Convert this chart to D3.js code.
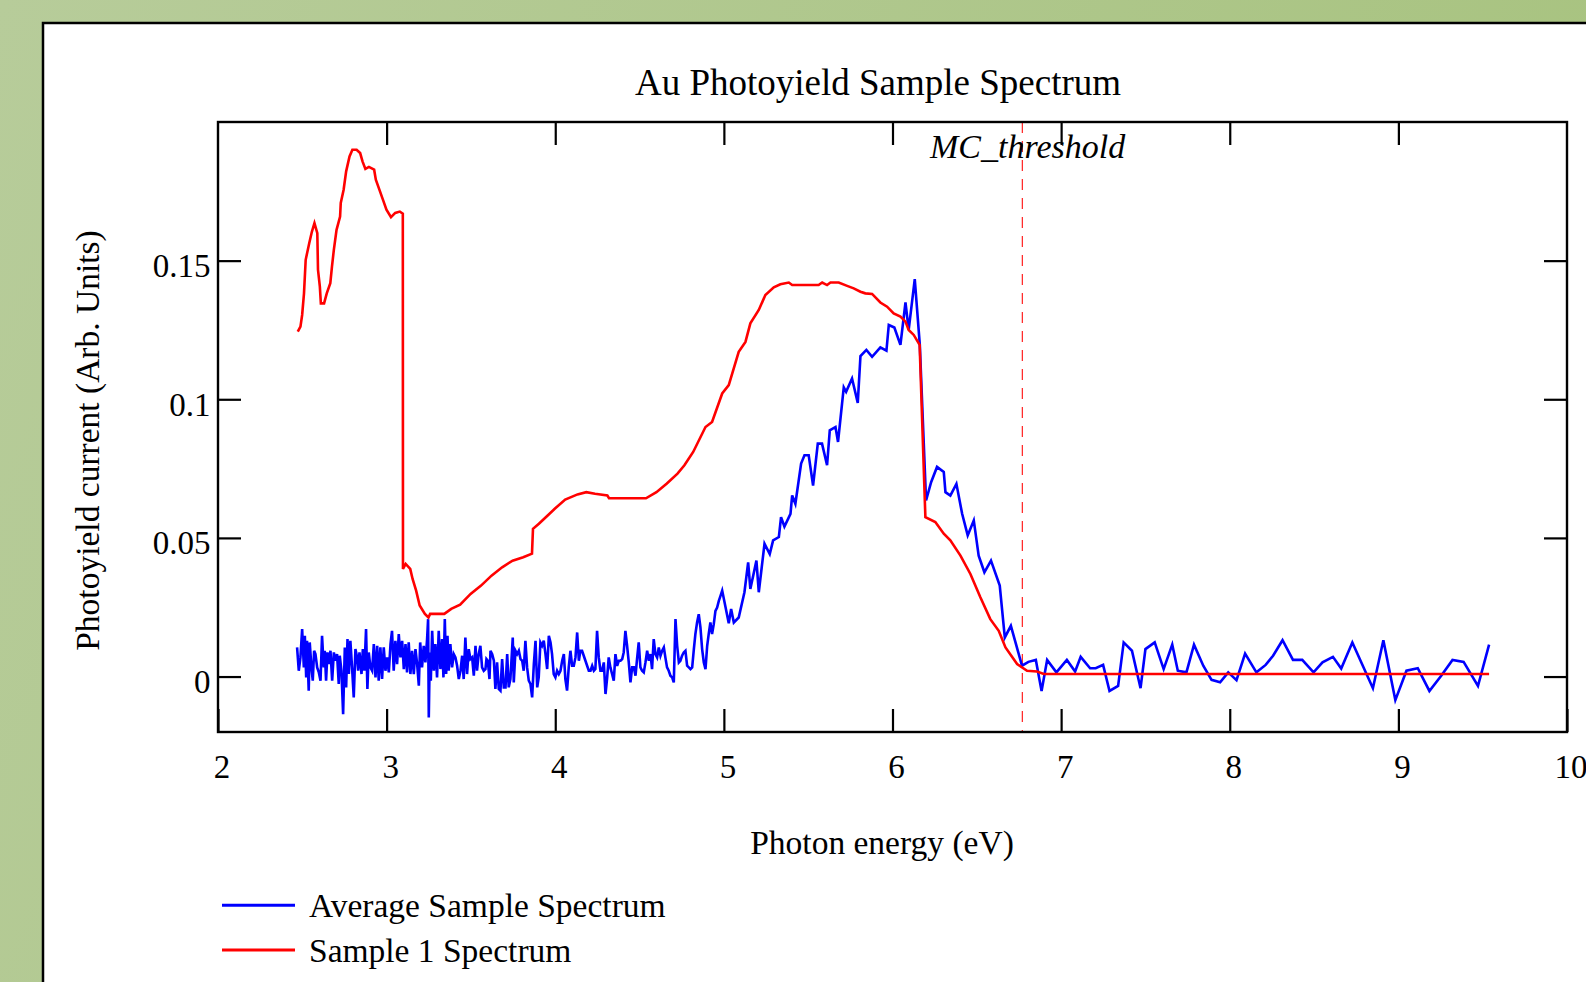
<!DOCTYPE html>
<html><head><meta charset="utf-8">
<script src="https://cdn.jsdelivr.net/npm/d3@7"></script>
<style>html,body{margin:0;padding:0;overflow:hidden;background:#b3c990}</style>
</head><body>
<svg id="c" width="1586" height="982"></svg>
<script>
// ---------- data ----------
const chartTitle = "Au Photoyield Sample Spectrum";
const xLabel = "Photon energy (eV)";
const yLabel = "Photoyield current (Arb. Units)";
const seriesNames = ["Average Sample Spectrum", "Sample 1 Spectrum"];
const xDomain = [2, 10];
const yDomain = [-0.02, 0.2];
const xTicks = [2, 3, 4, 5, 6, 7, 8, 9, 10];
const yTicks = [0, 0.05, 0.1, 0.15];
const thresholdLabel = "MC_threshold";
const threshold = 6.77;

// Average Sample Spectrum [eV, current]
const avgLow = [[2.469,0.0105],[2.479,0.0021],[2.489,0.0069],[2.499,0.0171],[2.509,0.0033],[2.515,0.0147],[2.523,-0.0003],[2.528,0.0129],[2.538,-0.0051],[2.544,0.0123],
[2.554,0.0033],[2.562,-0.0015],[2.570,0.0093],[2.578,0.0081],[2.588,0.0033],[2.598,0.0015],[2.608,-0.0015],[2.617,0.0147],[2.627,0.0033],[2.633,0.0093],
[2.641,-0.0015],[2.649,0.0087],[2.657,0.0045],[2.667,0.0093],[2.677,-0.0015],[2.687,0.0087],[2.696,0.0057],[2.706,0.0081],[2.716,-0.0027],[2.722,0.0075],
[2.732,0.0021],[2.742,-0.0136],[2.752,0.0105],[2.760,-0.0039],[2.768,0.0135],[2.776,0.0009],[2.785,0.0129],[2.795,0.0033],[2.805,-0.0075],[2.815,0.0099],
[2.825,0.0069],[2.831,0.0021],[2.839,0.0087],[2.851,0.0009],[2.859,0.0099],[2.868,0.0021],[2.878,0.0171],[2.886,-0.0045],[2.894,0.0087],[2.904,0.0033],
[2.914,0.0021],[2.924,0.0117],[2.934,-0.0003],[2.944,0.0111],[2.953,-0.0015],[2.963,0.0105],[2.973,-0.0009],[2.983,0.0105],[2.993,0.0021],[3.003,0.0069],
[3.013,0.0015],[3.023,0.0117],[3.032,0.0165],[3.042,0.0021],[3.052,0.0129],[3.062,0.0045],[3.072,0.0153],[3.082,0.0069],[3.092,0.0129],[3.102,0.0027],
[3.112,0.0117],[3.121,0.0015],[3.131,0.0123],[3.141,0.0009],[3.151,0.0093],[3.161,0.0009],[3.171,0.0099],[3.181,0.0045],[3.191,-0.0033],[3.199,0.0123],
[3.210,0.0033],[3.220,0.0111],[3.230,0.0051],[3.240,0.0135],[3.246,0.0207],[3.250,-0.0148],[3.256,0.0087],[3.262,-0.0015],[3.270,0.0165],[3.280,0.0021],
[3.289,0.0117],[3.299,-0.0003],[3.309,0.0165],[3.319,0.0027],[3.329,0.0135],[3.337,-0.0003],[3.345,0.0207],[3.353,0.0009],[3.361,0.0147],[3.368,0.0021],
[3.378,0.0117],[3.388,0.0033],[3.398,0.0081],[3.408,0.0069],[3.418,0.0039],[3.428,-0.0009],[3.438,0.0021],[3.448,0.0075],[3.457,-0.0009],[3.467,0.0141],
[3.477,0.0009],[3.487,0.0099],[3.497,0.0063],[3.507,0.0069],[3.517,0.0003],[3.527,0.0111],[3.536,0.0021],[3.546,0.0081],[3.556,0.0111],[3.566,0.0033],[3.576,0.0021]];
const avgMid = [[3.586,0.0027],[3.592,0.0063],[3.600,0.0057],[3.610,-0.0009],[3.616,0.0093],[3.626,0.0081],[3.636,0.0057],[3.645,-0.0045],[3.655,0.0051],[3.665,-0.0045],
[3.675,-0.0051],[3.685,0.0063],[3.695,-0.0039],[3.705,-0.0039],[3.715,0.0081],[3.724,-0.0039],[3.734,-0.0009],[3.748,0.0141],[3.754,-0.0021],[3.764,0.0093],
[3.774,0.0081],[3.784,0.0093],[3.794,0.0063],[3.804,0.0057],[3.813,0.0021],[3.823,0.0129],[3.833,0.0033],[3.843,-0.0015],[3.853,-0.0027],[3.863,-0.0075],
[3.873,0.0045],[3.883,0.0129],[3.893,-0.0039],[3.902,-0.0003],[3.912,0.0123],[3.922,0.0111],[3.932,0.0129],[3.942,0.0081],[3.952,0.0027],[3.962,0.0147],
[3.972,0.0123],[3.981,0.0081],[3.991,0.0009],[4.001,-0.0003],[4.011,0.0021],[4.021,0.0009],[4.031,0.0021],[4.041,0.0057],[4.051,0.0081],[4.060,-0.0009],
[4.070,-0.0051],[4.080,0.0033],[4.090,0.0093],[4.100,0.0039],[4.110,0.0039],[4.120,0.0069],[4.130,0.0159],[4.140,0.0057],[4.149,0.0093],[4.159,0.0093],
[4.169,0.0075],[4.179,0.0057],[4.189,0.0039],[4.199,0.0021],[4.209,0.0021],[4.219,0.0039],[4.229,0.0021],[4.238,0.0027],[4.248,0.0165],[4.258,0.0069],
[4.268,0.0021],[4.278,0.0021],[4.288,0.0051],[4.298,-0.0063],[4.308,-0.0003],[4.317,0.0069],[4.327,0.0033],[4.337,0.0009],[4.347,-0.0015],[4.357,0.0081],
[4.367,0.0039],[4.377,0.0057],[4.387,0.0057],[4.397,0.0063],[4.406,0.0087],[4.416,0.0165],[4.426,0.0111],[4.436,0.0051],[4.446,-0.0021],[4.456,0.0033],
[4.466,0.0033],[4.476,0.0003],[4.485,0.0063],[4.495,0.0123],[4.505,0.0033],[4.515,0.0021],[4.525,0.0015],[4.535,0.0051],[4.545,0.0093],[4.555,0.0057],
[4.565,0.0081],[4.574,0.0027],[4.584,0.0135],[4.594,0.0081],[4.604,0.0069],[4.614,0.0105],[4.624,0.0075],[4.634,0.0093],[4.644,0.0105],[4.653,0.0069],
[4.663,0.0033],[4.673,0.0021],[4.683,0.0003],[4.693,-0.0003],[4.703,-0.0021],[4.713,0.0207],[4.723,0.0111],[4.733,0.0051],[4.742,0.0057],[4.752,0.0075],
[4.762,0.0087],[4.772,0.0093],[4.782,0.0039],[4.792,0.0033],[4.802,0.0027],[4.812,0.0033],[4.822,0.0099],[4.831,0.0153],[4.841,0.0195],[4.851,0.0225],
[4.861,0.0177],[4.871,0.0099],[4.881,0.0051],[4.891,0.0027],[4.901,0.0111],[4.910,0.0153],[4.920,0.0195],[4.930,0.0153],[4.940,0.0189],[4.950,0.0237],
[4.960,0.0249],[4.970,0.0273],[4.980,0.0291]];
const avgPeak = [[4.990,0.0310],[5.029,0.0192],[5.043,0.0244],[5.059,0.0195],[5.088,0.0213],[5.122,0.0304],[5.144,0.0412],[5.157,0.0316],[5.193,0.0418],[5.207,0.0304],
[5.241,0.0479],[5.272,0.0442],[5.292,0.0491],[5.326,0.0503],[5.339,0.0575],[5.359,0.0541],[5.395,0.0587],[5.405,0.0653],[5.424,0.0623],[5.458,0.0768],
[5.478,0.0798],[5.503,0.0798],[5.529,0.0689],[5.557,0.0840],[5.582,0.0840],[5.612,0.0762],[5.628,0.0888],[5.662,0.0900],[5.677,0.0846],[5.711,0.1043],
[5.725,0.1027],[5.760,0.1075],[5.794,0.0987],[5.810,0.1156],[5.845,0.1178],[5.879,0.1153],[5.928,0.1187],[5.964,0.1175],[5.978,0.1268],[6.011,0.1259],
[6.047,0.1196],[6.077,0.1349],[6.096,0.1250],[6.132,0.1433],[6.162,0.1196],[6.199,0.0635],[6.229,0.0701],[6.264,0.0756],[6.304,0.0738],[6.314,0.0665],
[6.343,0.0653],[6.379,0.0695],[6.413,0.0587],[6.446,0.0509],[6.482,0.0563],[6.511,0.0436],[6.545,0.0376],[6.584,0.0418],[6.636,0.0328]];
const avgTail = [[6.666,0.0141],[6.702,0.0183],[6.768,0.0039],[6.806,0.0053],[6.850,0.0060],[6.884,-0.0052],[6.917,0.0060],[6.972,0.0015],[7.034,0.0060],[7.083,0.0018],
[7.116,0.0071],[7.172,0.0030],[7.205,0.0030],[7.249,0.0042],[7.287,-0.0052],[7.338,-0.0034],[7.371,0.0123],[7.420,0.0093],[7.471,-0.0042],[7.500,0.0099],
[7.555,0.0123],[7.608,0.0027],[7.659,0.0115],[7.692,0.0021],[7.743,0.0015],[7.788,0.0115],[7.843,0.0039],[7.892,-0.0012],[7.943,-0.0021],[7.991,0.0015],
[8.040,-0.0013],[8.091,0.0083],[8.158,0.0015],[8.213,0.0042],[8.257,0.0075],[8.313,0.0131],[8.375,0.0060],[8.430,0.0060],[8.497,0.0015],[8.550,0.0051],
[8.612,0.0071],[8.661,0.0029],[8.727,0.0123],[8.789,0.0039],[8.849,-0.0042],[8.911,0.0131],[8.982,-0.0085],[9.048,0.0021],[9.115,0.0030],[9.184,-0.0052],
[9.254,0.0003],[9.321,0.0060],[9.387,0.0053],[9.472,-0.0034],[9.538,0.0115]];

// Sample 1 Spectrum [eV, current]
const sample1 = [[2.473,0.1244],[2.489,0.1262],[2.499,0.1304],[2.510,0.1382],[2.520,0.1503],[2.541,0.1563],[2.557,0.1605],[2.572,0.1635],[2.589,0.1599],[2.593,0.1467],
[2.604,0.1406],[2.610,0.1346],[2.629,0.1346],[2.645,0.1382],[2.666,0.1419],[2.676,0.1479],[2.687,0.1539],[2.703,0.1611],[2.724,0.1659],[2.728,0.1708],
[2.745,0.1756],[2.760,0.1822],[2.780,0.1876],[2.797,0.1900],[2.822,0.1900],[2.843,0.1888],[2.857,0.1858],[2.874,0.1831],[2.895,0.1838],[2.926,0.1828],
[2.936,0.1792],[2.957,0.1756],[2.978,0.1720],[2.999,0.1684],[3.026,0.1657],[3.051,0.1672],[3.078,0.1677],[3.096,0.1669],[3.097,0.0388],[3.113,0.0406],
[3.140,0.0388],[3.154,0.0352],[3.175,0.0310],[3.196,0.0256],[3.227,0.0226],[3.248,0.0213],[3.258,0.0226],[3.342,0.0226],[3.383,0.0244],[3.436,0.0259],
[3.498,0.0298],[3.560,0.0328],[3.622,0.0364],[3.685,0.0394],[3.747,0.0418],[3.810,0.0430],[3.862,0.0443],[3.868,0.0533],[3.903,0.0551],[3.955,0.0581],
[3.997,0.0605],[4.059,0.0638],[4.132,0.0657],[4.184,0.0665],[4.236,0.0659],[4.309,0.0653],[4.319,0.0643],[4.538,0.0643],[4.600,0.0665],[4.662,0.0696],
[4.725,0.0732],[4.766,0.0762],[4.818,0.0810],[4.891,0.0900],[4.930,0.0918],[4.990,0.1021],[5.029,0.1051],[5.088,0.1171],[5.128,0.1207],[5.157,0.1274],
[5.207,0.1322],[5.246,0.1376],[5.296,0.1404],[5.335,0.1415],[5.385,0.1421],[5.405,0.1412],[5.562,0.1412],[5.583,0.1421],[5.612,0.1412],[5.632,0.1421],
[5.681,0.1421],[5.731,0.1409],[5.770,0.1400],[5.810,0.1388],[5.839,0.1382],[5.879,0.1380],[5.928,0.1349],[5.968,0.1334],[6.007,0.1310],[6.047,0.1298],
[6.077,0.1280],[6.096,0.1250],[6.126,0.1232],[6.161,0.1196],[6.195,0.0575],[6.254,0.0557],[6.304,0.0515],[6.343,0.0491],[6.403,0.0436],[6.462,0.0370],
[6.521,0.0286],[6.580,0.0207],[6.630,0.0165],[6.670,0.0105],[6.739,0.0045],[6.798,0.0021],[6.857,0.0018],[6.897,0.0009],[9.538,0.0009]];

// ---------- drawing ----------
const FONT = "'Liberation Serif','Times New Roman',Times,serif";
const FS = 33.5;
const svg = d3.select("#c");
const defs = svg.append("defs");
const gr = defs.append("linearGradient").attr("id","bg").attr("x1",0).attr("y1",0).attr("x2",1).attr("y2",0.25);
gr.append("stop").attr("offset","0%").attr("stop-color","#b7cc9a");
gr.append("stop").attr("offset","100%").attr("stop-color","#a8c380");
svg.append("rect").attr("width",1586).attr("height",982).attr("fill","url(#bg)");
svg.append("rect").attr("x",43).attr("y",23).attr("width",1620).attr("height",1020)
  .attr("fill","#fff").attr("stroke","#000").attr("stroke-width",2.5);

const X0 = 218, X1 = 1567, Y0 = 122, Y1 = 732;
const x = d3.scaleLinear().domain(xDomain).range([X0, X1]);
const y = d3.scaleLinear().domain(yDomain).range([Y1, Y0]);

function styleAxis(g){
  g.attr("font-family", FONT).attr("font-size", 33);
  g.select(".domain").remove();
  g.selectAll(".tick line").attr("stroke","#000").attr("stroke-width",2.2);
  g.selectAll(".tick text").attr("fill","#000");
}

// bottom
const gb = svg.append("g").attr("transform",`translate(0,${Y1})`)
  .call(d3.axisBottom(x).tickValues(xTicks).tickSizeInner(-23).tickSizeOuter(0).tickPadding(22.6).tickFormat(d3.format("d")));
styleAxis(gb); gb.selectAll(".tick text").attr("dx", 3.5);
// top
const gt = svg.append("g").attr("transform",`translate(0,${Y0})`)
  .call(d3.axisTop(x).tickValues(xTicks.slice(1,-1)).tickSizeInner(-23).tickSizeOuter(0).tickFormat(""));
styleAxis(gt);
// left
const gl = svg.append("g").attr("transform",`translate(${X0},0)`)
  .call(d3.axisLeft(y).tickValues(yTicks).tickSizeInner(-23).tickSizeOuter(0).tickPadding(7.5).tickFormat(d => String(d)));
styleAxis(gl); gl.selectAll(".tick text").attr("dy","0.48em");
// right
const gr2 = svg.append("g").attr("transform",`translate(${X1},0)`)
  .call(d3.axisRight(y).tickValues(yTicks).tickSizeInner(-23).tickSizeOuter(0).tickFormat(""));
styleAxis(gr2);

// threshold marker
svg.append("line").attr("x1",x(threshold)).attr("x2",x(threshold)).attr("y1",Y0).attr("y2",Y1)
  .attr("stroke","#ff2020").attr("stroke-width",1.2).attr("stroke-dasharray","11,8");
svg.append("text").attr("x",930).attr("y",158).attr("font-family",FONT).attr("font-size",34)
  .attr("font-style","italic").attr("fill","#000").text(thresholdLabel);

// series
const line = d3.line().x(d => x(d[0])).y(d => y(d[1]));
const avgAll = avgLow.concat(avgMid, avgPeak, avgTail);
svg.append("path").datum(avgAll).attr("d",line).attr("fill","none")
  .attr("stroke","#0000ff").attr("stroke-width",2.6).attr("stroke-linejoin","miter");
svg.append("path").datum(sample1).attr("d",line).attr("fill","none")
  .attr("stroke","#ff0000").attr("stroke-width",2.6).attr("stroke-linejoin","miter");

// frame
svg.append("rect").attr("x",X0).attr("y",Y0).attr("width",X1-X0).attr("height",Y1-Y0)
  .attr("fill","none").attr("stroke","#000").attr("stroke-width",2.4);

// titles
svg.append("text").attr("x",878).attr("y",95).attr("text-anchor","middle")
  .attr("font-family",FONT).attr("font-size",37).attr("fill","#000").text(chartTitle);
svg.append("text").attr("x",882).attr("y",854).attr("text-anchor","middle")
  .attr("font-family",FONT).attr("font-size",FS).attr("fill","#000").text(xLabel);
svg.append("text").attr("transform","translate(99,440.5) rotate(-90)").attr("text-anchor","middle")
  .attr("font-family",FONT).attr("font-size",FS).attr("fill","#000").text(yLabel);

// legend
const legColors = ["#0000ff","#ff0000"];
const legY = [905.3, 950];
seriesNames.forEach((n,i) => {
  svg.append("line").attr("x1",222).attr("x2",295).attr("y1",legY[i]).attr("y2",legY[i])
    .attr("stroke",legColors[i]).attr("stroke-width",3);
  svg.append("text").attr("x",309).attr("y",legY[i]+11.7).attr("font-family",FONT)
    .attr("font-size",FS).attr("fill","#000").text(n);
});
</script>
</body></html>
